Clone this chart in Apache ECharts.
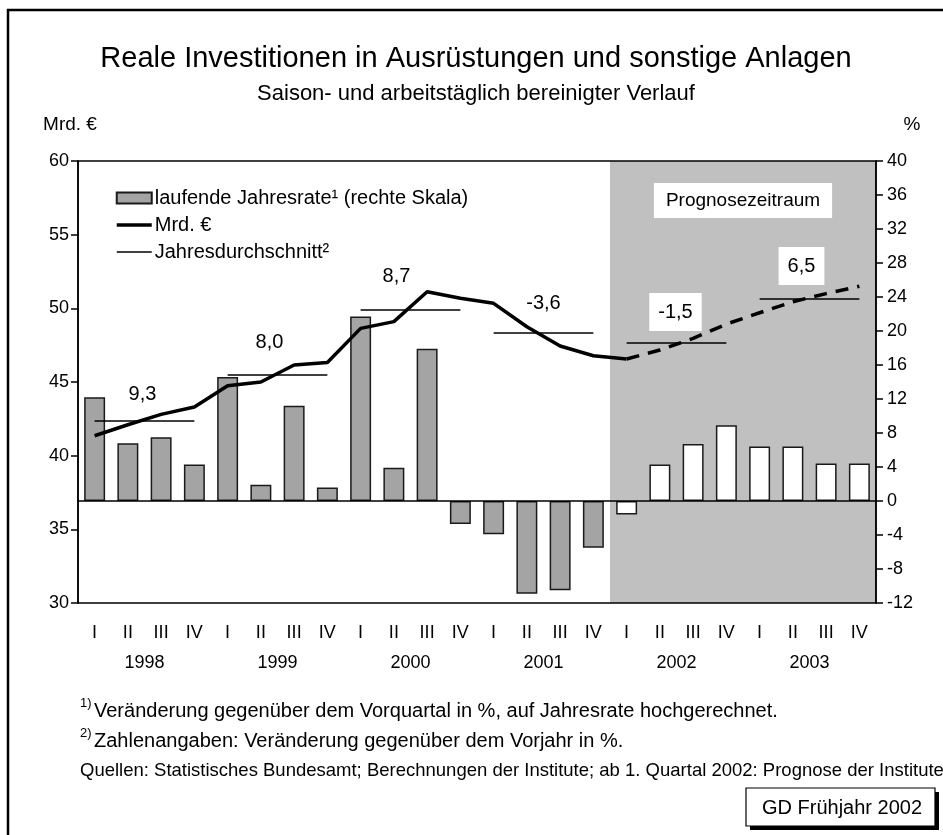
<!DOCTYPE html>
<html>
<head>
<meta charset="utf-8">
<script src="https://cdn.jsdelivr.net/npm/echarts@6/dist/echarts.min.js"></script>
<style>
html, body { margin: 0; padding: 0; background: #fff; }
#chart { width: 943px; height: 835px; }
</style>
</head>
<body>
<div id="chart"></div>
<script>
const FONT = '"Liberation Sans", Arial, sans-serif'

// Quartale 1998 I bis 2003 IV
const quarters = [
    'I', 'II', 'III', 'IV', 'I', 'II', 'III', 'IV', 'I', 'II', 'III', 'IV',
    'I', 'II', 'III', 'IV', 'I', 'II', 'III', 'IV', 'I', 'II', 'III', 'IV'
]
const years = ['1998', '1999', '2000', '2001', '2002', '2003']

// laufende Jahresrate in % (rechte Skala)
const jahresrate = [
    12.2, 6.8, 7.5, 4.3, 14.6, 1.9, 11.2, 1.6,
    21.7, 3.9, 17.9, -2.7, -3.9, -10.9, -10.5, -5.5,
    -1.6, 4.3, 6.7, 8.9, 6.4, 6.4, 4.4, 4.4
]

// Mrd. € (linke Skala)
const mrdEuro = [
    41.35, 42.1, 42.8, 43.3, 44.75, 45.0, 46.15, 46.33,
    48.64, 49.1, 51.13, 50.68, 50.34, 48.75, 47.44, 46.78,
    46.56, 47.17, 47.96, 48.93, 49.7, 50.45, 51.0, 51.5
]

// Jahresdurchschnitt (Mrd. €) und Veränderung gegenüber Vorjahr
const jahresSchnitt = [42.35, 45.52, 49.9, 48.37, 47.64, 50.63]
const jahresVeraenderung = ['9,3', '8,0', '8,7', '-3,6', '-1,5', '6,5']

// erstes Prognosequartal (2002 I)
const prognoseStart = 16

const chart = echarts.init(document.getElementById('chart'))

// Position der Jahreszahlen relativ zur Mitte der Durchschnittslinie
const labelShift = [[-2, -27], [-8, -32], [-14, -33], [0, -29], [-1, -31], [-8, -33]]

const textStyle = { fontFamily: FONT, color: '#000' }

const option = {
    animation: false,
    backgroundColor: '#fff',
    textStyle: textStyle,
    grid: {
        left: 78,
        right: 67,
        top: 161,
        bottom: 232,
        show: true,
        borderColor: '#000',
        borderWidth: 1.5,
        backgroundColor: 'transparent',
        z: 6
    },
    legend: {
        orient: 'vertical',
        left: 115,
        top: 188,
        padding: 0,
        itemGap: 7,
        itemWidth: 35,
        itemHeight: 11,
        textStyle: { fontFamily: FONT, fontSize: 20, color: '#000', padding: [0, 0, 0, -2] },
        data: [
            { name: 'laufende Jahresrate¹ (rechte Skala)', icon: 'rect' },
            { name: 'Mrd. €', itemStyle: { opacity: 0 }, lineStyle: { width: 3.5 } },
            { name: 'Jahresdurchschnitt²', itemStyle: { opacity: 0 }, lineStyle: { width: 1.5 } }
        ]
    },
    xAxis: [
        {
            type: 'category',
            data: quarters,
            position: 'bottom',
            z: 6,
            axisLine: { lineStyle: { color: '#000', width: 1.5 } },
            axisTick: { interval: 3, length: 6, lineStyle: { color: '#000', width: 1.5 } },
            axisLabel: { interval: 0, fontFamily: FONT, fontSize: 18, color: '#000', margin: 21 }
        },
        {
            type: 'category',
            data: years,
            position: 'bottom',
            offset: 30,
            axisLine: { show: false },
            axisTick: { show: false },
            axisLabel: { fontFamily: FONT, fontSize: 18, color: '#000', margin: 21 }
        },
        {
            type: 'value',
            min: 0,
            max: quarters.length,
            show: false
        }
    ],
    yAxis: [
        {
            type: 'value',
            min: 30,
            max: 60,
            interval: 5,
            position: 'left',
            z: 6,
            splitLine: { show: false },
            axisLine: { show: true, lineStyle: { color: '#000', width: 1.5 } },
            axisTick: { show: true, length: 7, lineStyle: { color: '#000', width: 1.5 } },
            axisLabel: { fontFamily: FONT, fontSize: 18, color: '#000', margin: 9 }
        },
        {
            type: 'value',
            min: -12,
            max: 40,
            interval: 4,
            position: 'right',
            z: 6,
            splitLine: { show: false },
            axisLine: { show: true, lineStyle: { color: '#000', width: 1.5 } },
            axisTick: { show: true, length: 7, lineStyle: { color: '#000', width: 1.5 } },
            axisLabel: { fontFamily: FONT, fontSize: 18, color: '#000', margin: 11 }
        }
    ],
    series: [
        {
            // Prognosezeitraum hinterlegt
            name: 'Prognosezeitraum',
            type: 'line',
            xAxisIndex: 2,
            yAxisIndex: 0,
            data: [],
            silent: true,
            markArea: {
                silent: true,
                itemStyle: { color: '#c0c0c0' },
                label: {
                    show: true,
                    position: 'insideTop',
                    distance: 22,
                    formatter: 'Prognosezeitraum',
                    fontFamily: FONT,
                    fontSize: 19,
                    color: '#000',
                    backgroundColor: '#fff',
                    padding: [8, 12]
                },
                data: [[{ xAxis: prognoseStart }, { xAxis: quarters.length }]]
            }
        },
        {
            name: 'laufende Jahresrate¹ (rechte Skala)',
            type: 'bar',
            xAxisIndex: 0,
            yAxisIndex: 1,
            barWidth: '63%',
            z: 2,
            itemStyle: { color: '#a4a4a4', borderColor: '#1a1a1a', borderWidth: 1.5 },
            data: jahresrate.map((v, i) => i >= prognoseStart
                ? { value: v, itemStyle: { color: '#fff' } }
                : v)
        },
        {
            name: 'Mrd. €',
            type: 'line',
            xAxisIndex: 0,
            yAxisIndex: 0,
            symbol: 'none',
            z: 4,
            lineStyle: { color: '#000', width: 3.5 },
            itemStyle: { color: '#000' },
            data: mrdEuro.map((v, i) => i <= prognoseStart ? v : null)
        },
        {
            name: 'Mrd. € Prognose',
            type: 'line',
            xAxisIndex: 0,
            yAxisIndex: 0,
            symbol: 'none',
            z: 4,
            lineStyle: { color: '#000', width: 3.5, type: [13, 9] },
            data: mrdEuro.map((v, i) => i >= prognoseStart ? v : null)
        },
        {
            name: 'Jahresdurchschnitt²',
            type: 'line',
            xAxisIndex: 2,
            yAxisIndex: 0,
            symbol: 'none',
            data: [],
            lineStyle: { color: '#000', width: 1.5 },
            itemStyle: { color: '#000' },
            markLine: {
                silent: true,
                symbol: 'none',
                z: 5,
                label: { show: false },
                lineStyle: { color: '#000', width: 1.5, type: 'solid' },
                data: jahresSchnitt.map((v, k) => [
                    { coord: [4 * k + 0.5, v] },
                    { coord: [4 * k + 3.5, v] }
                ])
            }
        },
        {
            name: 'Veränderung',
            type: 'scatter',
            xAxisIndex: 2,
            yAxisIndex: 0,
            symbolSize: 0,
            silent: true,
            z: 5,
            itemStyle: { opacity: 1 },
            data: jahresSchnitt.map((v, k) => ({
                value: [4 * k + 2, v],
                label: {
                    show: true,
                    position: 'inside',
                    offset: labelShift[k],
                    formatter: jahresVeraenderung[k],
                    fontFamily: FONT,
                    fontSize: 20,
                    color: '#000',
                    backgroundColor: 4 * k >= prognoseStart ? '#fff' : 'transparent',
                    padding: 4 * k >= prognoseStart ? [9, 9] : 0
                }
            }))
        }
    ],
    graphic: [
        {
            type: 'rect',
            shape: { x: 8, y: 10, width: 1200, height: 1200 },
            style: { fill: 'none', stroke: '#000', lineWidth: 2.5 },
            silent: true
        },
        {
            type: 'text', x: 476, y: 59,
            style: { text: 'Reale Investitionen in Ausrüstungen und sonstige Anlagen', font: '29px ' + FONT, fill: '#000', align: 'center', verticalAlign: 'middle' }
        },
        {
            type: 'text', x: 476, y: 94,
            style: { text: 'Saison- und arbeitstäglich bereinigter Verlauf', font: '22px ' + FONT, fill: '#000', align: 'center', verticalAlign: 'middle' }
        },
        {
            type: 'text', x: 70, y: 125,
            style: { text: 'Mrd. €', font: '19px ' + FONT, fill: '#000', align: 'center', verticalAlign: 'middle' }
        },
        {
            type: 'text', x: 912, y: 125,
            style: { text: '%', font: '19px ' + FONT, fill: '#000', align: 'center', verticalAlign: 'middle' }
        },
        {
            type: 'text', x: 80, y: 703,
            style: { text: '1)', font: '13px ' + FONT, fill: '#000', verticalAlign: 'middle' }
        },
        {
            type: 'text', x: 94, y: 711,
            style: { text: 'Veränderung gegenüber dem Vorquartal in %, auf Jahresrate hochgerechnet.', font: '20px ' + FONT, fill: '#000', verticalAlign: 'middle' }
        },
        {
            type: 'text', x: 80, y: 733,
            style: { text: '2)', font: '13px ' + FONT, fill: '#000', verticalAlign: 'middle' }
        },
        {
            type: 'text', x: 94, y: 741,
            style: { text: 'Zahlenangaben: Veränderung gegenüber dem Vorjahr in %.', font: '20px ' + FONT, fill: '#000', verticalAlign: 'middle' }
        },
        {
            type: 'text', x: 80, y: 771,
            style: { text: 'Quellen: Statistisches Bundesamt; Berechnungen der Institute; ab 1. Quartal 2002: Prognose der Institute.', font: '18.5px ' + FONT, fill: '#000', verticalAlign: 'middle' }
        },
        {
            type: 'rect',
            shape: { x: 750, y: 792, width: 189, height: 38 },
            style: { fill: '#000' },
            silent: true
        },
        {
            type: 'rect',
            shape: { x: 746, y: 788, width: 189, height: 38 },
            style: { fill: '#fff', stroke: '#000', lineWidth: 1.2 },
            silent: true
        },
        {
            type: 'text', x: 842, y: 808,
            style: { text: 'GD Frühjahr 2002', font: '20px ' + FONT, fill: '#000', align: 'center', verticalAlign: 'middle' }
        }
    ]
}

chart.setOption(option)
</script>
</body>
</html>
